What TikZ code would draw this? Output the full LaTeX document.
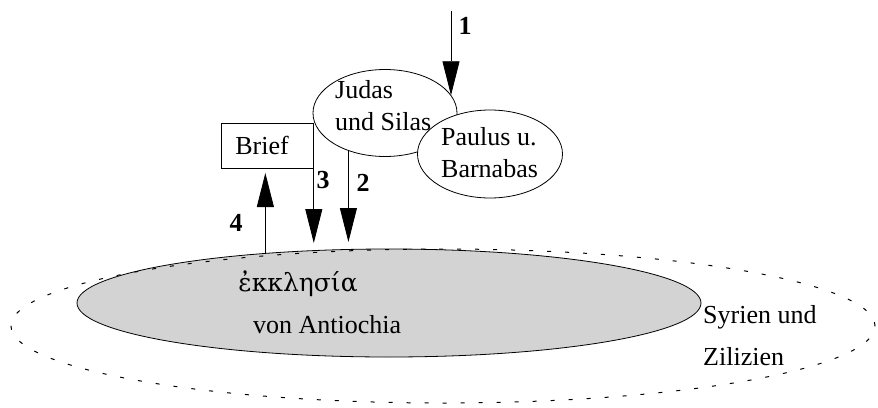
\documentclass[tikz,border=0pt]{standalone}
\usepackage{fontspec}
\setmainfont{Liberation Serif}
\newfontfamily\greekfont{DejaVu Serif}
\usetikzlibrary{shapes.geometric,arrows.meta}
\definecolor{ecclgray}{RGB}{211,211,211}
\tikzset{
  txt/.style={inner sep=0pt, font=\fontsize{26}{32}\selectfont, anchor=base west},
  num/.style={inner sep=0pt, font=\fontsize{26}{32}\selectfont\bfseries},
  oval/.style={ellipse, draw, line width=0.8pt, inner sep=0pt},
  arr/.style={line width=0.8pt, -{Triangle[length=34pt,width=17pt]}},
}
\begin{document}
\begin{tikzpicture}[x=1pt,y=-1pt]
\useasboundingbox (0,0) rectangle (878,407);
% church of Antioch
\node[oval, fill=ecclgray, minimum width=624pt, minimum height=108pt] (eccl) at (389,303) {};
% region Syria and Cilicia
\node[ellipse, draw, line width=1pt, dash pattern=on 4pt off 14pt, minimum width=864pt, minimum height=154pt, inner sep=0pt] (region) at (443,326) {};
\node[txt, anchor=base, font=\greekfont\fontsize{25}{32}\selectfont] (greek) at (298,291) {ἐκκλησία};
\node[txt] (antioch) at (253,333) {von Antiochia};
\node[txt] (syr1) at (703,323) {Syrien und};
\node[txt] (syr2) at (703,365) {Zilizien};
% persons
\node[oval, fill=white, minimum width=144pt, minimum height=87pt] (judas) at (385,113) {};
\node[oval, fill=white, minimum width=145pt, minimum height=88pt] (paulus) at (490,154) {};
\node[txt] (judas1) at (335,98) {Judas};
\node[txt] (judas2) at (335,130) {und Silas};
\node[txt] (paulus1) at (441,145) {Paulus u.};
\node[txt] (paulus2) at (441,177) {Barnabas};
% letter
\node[draw, line width=0.8pt, anchor=north west, text width=64pt, inner xsep=14pt, inner ysep=0pt, minimum height=45pt, align=left, font=\fontsize{26}{32}\selectfont] (brief) at (221,123) {Brief};
% arrow ends
\coordinate (a1start) at (451,11);
\coordinate (a2tip) at (349,242);
\coordinate (a3tip) at (313,243);
\coordinate (a4tip) at (262,173);
% arrows
\draw[arr] (a1start) -- (a1start |- judas.15);
\draw[arr] (judas.226) -- (judas.226 |- a2tip);
\draw[arr] (brief.north east) -- (brief.north east |- a3tip);
\draw[arr] (eccl.158.8) -- (eccl.158.8 |- a4tip);
% numbers
\node[num] (n1) at (465,26) {1};
\node[num] (n2) at (363,183) {2};
\node[num] (n3) at (323,180) {3};
\node[num] (n4) at (236,222.5) {4};
\end{tikzpicture}
\end{document}
